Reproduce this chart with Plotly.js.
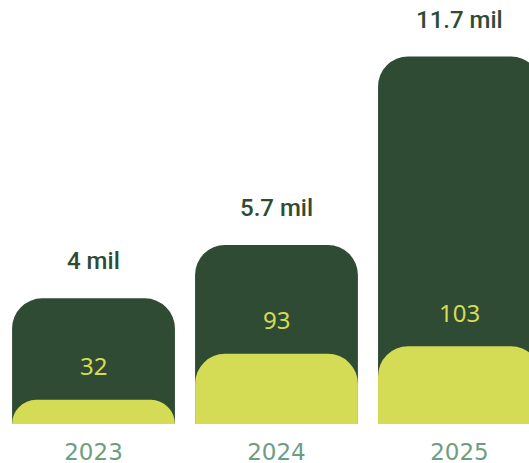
<!DOCTYPE html>
<html>
<head>
<meta charset="utf-8">
<script src="https://cdn.plot.ly/plotly-3.0.1.min.js"></script>
<style>html,body{margin:0;padding:0;background:#fff;}#chart{width:529px;height:463px;}</style>
</head>
<body>
<div id="chart"></div>
<script>
const years = ['2023', '2024', '2025'];
const totalMil = [4, 5.7, 11.7];
const innerValues = [32, 93, 103];
const totalLabels = ['4 mil', '5.7 mil', '11.7 mil'];

const dark = '#2f4b33';
const lime = '#d4dc55';
const sage = '#6d9e82';
const fam = '"Noto Sans", sans-serif';
const labelFam = 'Roboto, sans-serif';
const tickFam = '"DejaVu Sans", sans-serif';

const traces = [
  {
    type: 'bar', x: years, y: totalMil, yaxis: 'y',
    width: 0.89, marker: {color: dark, cornerradius: 30},
    hoverinfo: 'none'
  },
  {
    type: 'bar', x: years, y: innerValues, yaxis: 'y2',
    width: 0.89, marker: {color: lime, cornerradius: 30},
    hoverinfo: 'none'
  }
];

const annotations = [];
years.forEach((yr, i) => {
  annotations.push({
    x: i, y: totalMil[i], xref: 'x', yref: 'y', text: totalLabels[i],
    showarrow: false, yanchor: 'middle', yshift: 37,
    font: {family: labelFam, size: 24, color: dark, weight: 500}
  });
  annotations.push({
    x: i, y: innerValues[i], xref: 'x', yref: 'y2', text: String(innerValues[i]),
    showarrow: false, yanchor: 'middle', yshift: 34,
    font: {family: fam, size: 24, color: lime}
  });
});

const layout = {
  width: 529, height: 463,
  margin: {l: 0, r: 0, t: 0, b: 39},
  paper_bgcolor: '#fff', plot_bgcolor: '#fff',
  showlegend: false, barmode: 'overlay',
  font: {family: fam},
  xaxis: {
    type: 'category', range: [-0.511, 2.38],
    showgrid: false, zeroline: false, showline: false,
    ticks: '', ticklabelstandoff: 12,
    tickfont: {family: tickFam, size: 23, color: sage}
  },
  yaxis: {range: [0, 13.5], visible: false},
  yaxis2: {range: [0, 562], overlaying: 'y', visible: false},
  annotations: annotations
};

Plotly.newPlot('chart', traces, layout, {displayModeBar: false});
</script>
</body>
</html>
